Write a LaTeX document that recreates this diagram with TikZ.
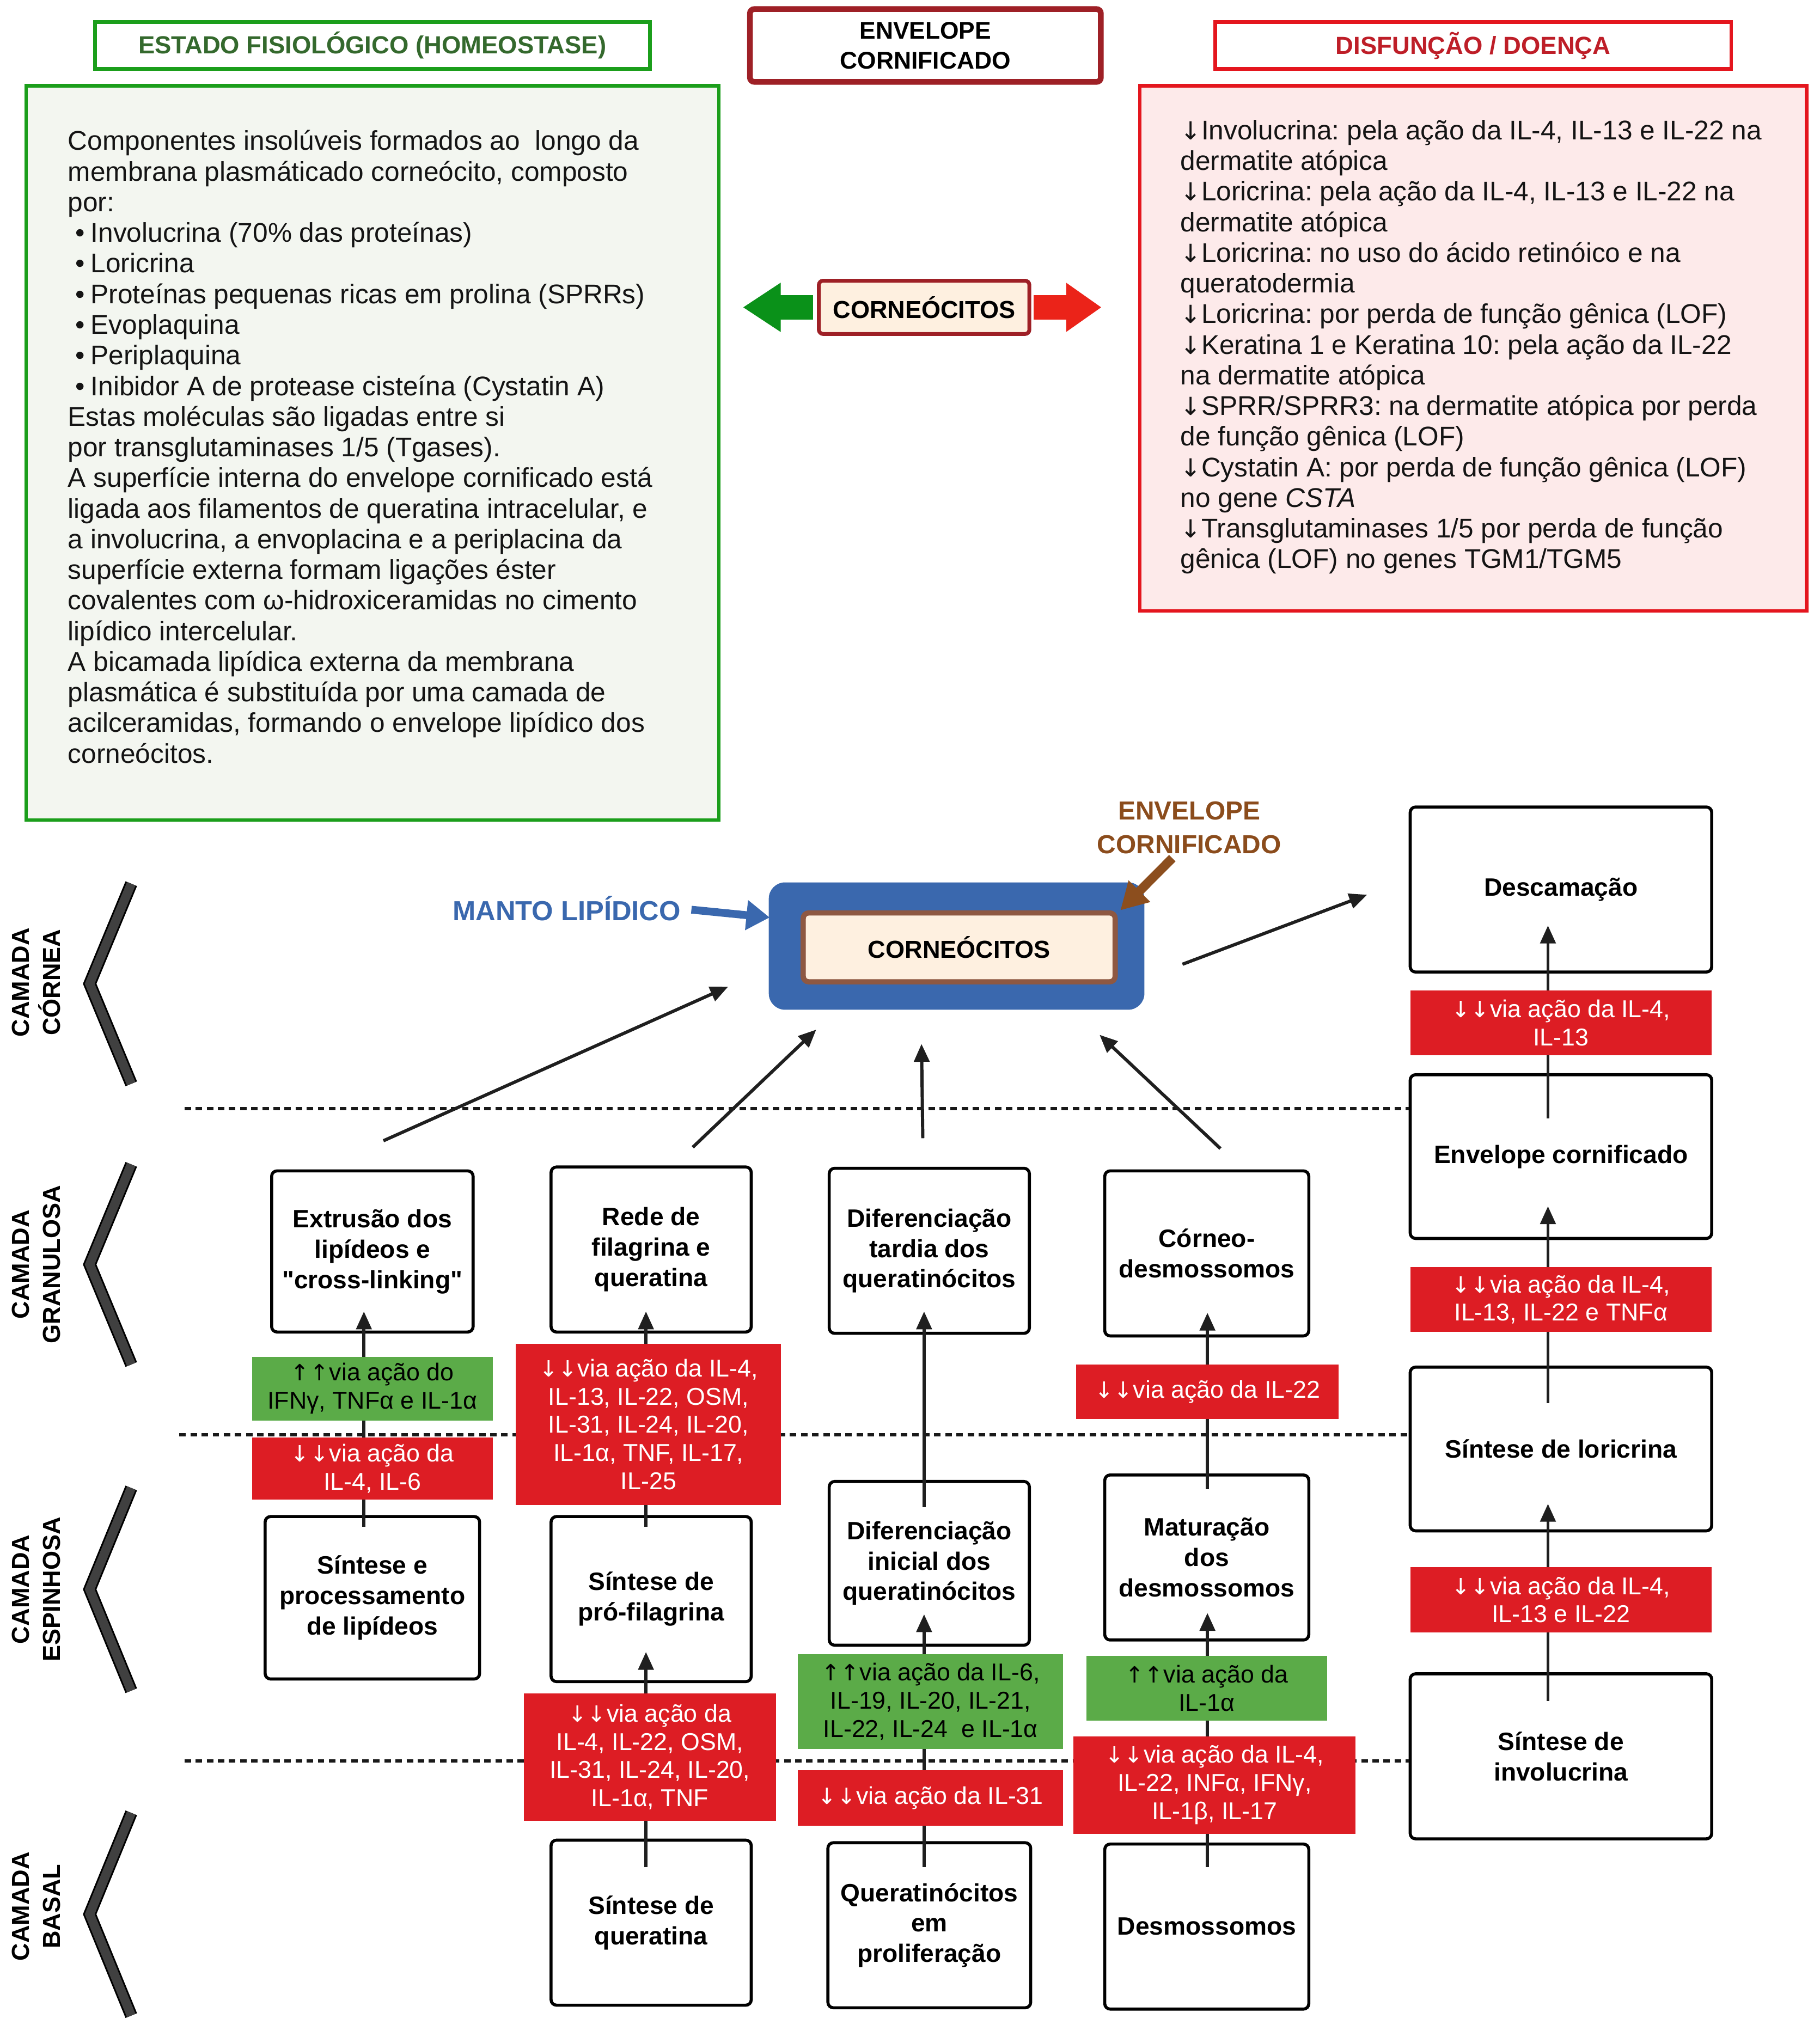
\documentclass[tikz,border=0pt]{standalone}
\usepackage{fontspec}
\setmainfont[Ligatures=TeXOff]{Liberation Sans}
\newfontfamily\arrowfont{DejaVu Sans}
\usetikzlibrary{arrows.meta,calc}
\lineskiplimit=-6pt
\lineskip=0pt
\frenchspacing
\newcommand\pxu{0.024cm}
\newcommand\dar{{\arrowfont\scalebox{0.92}{↓}}}
\newcommand\uar{{\arrowfont\scalebox{0.92}{↑}}}
\newcommand\ddn{\dar\hspace{0.02em}\dar\hspace{0.02em}}
\newcommand\uup{\uar\hspace{0.02em}\uar\hspace{0.02em}}
\definecolor{gborder}{RGB}{27,158,27}
\definecolor{gtext}{RGB}{52,105,45}
\definecolor{gfill}{RGB}{243,246,240}
\definecolor{rborder}{RGB}{228,22,30}
\definecolor{rtext}{RGB}{190,30,40}
\definecolor{rfill}{RGB}{253,234,234}
\definecolor{dred}{RGB}{158,32,38}
\definecolor{labred}{RGB}{221,29,36}
\definecolor{labgreen}{RGB}{91,171,72}
\definecolor{blu}{RGB}{58,104,174}
\definecolor{brn}{RGB}{142,88,66}
\definecolor{brntext}{RGB}{139,76,28}
\definecolor{brnarrow}{RGB}{140,78,30}
\definecolor{cream}{RGB}{254,240,224}
\definecolor{chev}{RGB}{64,64,64}
\definecolor{arrgreen}{RGB}{10,145,25}
\definecolor{arrred}{RGB}{235,35,25}
\tikzset{
  bx/.style 2 args={draw=black, fill=white, line width=1.6pt, rounded corners=0.1cm, align=center, inner sep=0pt,
    minimum width=#1*\pxu, minimum height=#2*\pxu, font=\fontsize{13.2}{16}\selectfont\bfseries},
  lab/.style 2 args={fill=labred, text=white, align=center, inner sep=0pt,
    minimum width=#1*\pxu, minimum height=#2*\pxu, font=\fontsize{12.8}{14.8}\selectfont},
  labg/.style 2 args={lab={#1}{#2}, fill=labgreen, text=black},
  arr/.style={draw=black!88, line width=1.7pt, -{Triangle[length=0.33cm,width=0.28cm]}},
  dotline/.style={draw=black!90, line width=1.6pt, dash pattern=on 0.12cm off 0.085cm},
  chevron/.style={draw=black, double=chev, double distance=7*\pxu, line width=1.3*\pxu, line join=miter},
  layer/.style={rotate=90, align=center, inner sep=0pt, font=\fontsize{12.9}{16.3}\selectfont\bfseries},
  body/.style={anchor=north west, align=left, inner sep=0pt, text=black!92,
    font=\fontsize{14.2}{16.1}\selectfont},
  ttl/.style={line width=2pt, inner sep=0pt, font=\fontsize{13}{15}\selectfont\bfseries},
}
\begin{document}
\begin{tikzpicture}[x=\pxu,y=-\pxu]
\useasboundingbox (0,0) rectangle (1400,1567.5);
\fill[white] (0,0) rectangle (1400,1567.5);

% ---------- top part ----------
\node[ttl, draw=gborder, text=gtext, minimum width=427*\pxu, minimum height=36*\pxu] (gtitle) at (286.5,35) {ESTADO FISIOLÓGICO (HOMEOSTASE)};
\node[draw=gborder, fill=gfill, line width=1.8pt, minimum width=533*\pxu, minimum height=565*\pxu] (gbox) at (286.5,348.5) {};
\node[body] (gtext) at (52,100) {Componentes insolúveis formados ao\ \ longo da\\
membrana plasmáticado corneócito, composto\\
por:\\
\hspace*{4pt}•\hspace{3pt}Involucrina (70\% das proteínas)\\
\hspace*{4pt}•\hspace{3pt}Loricrina\\
\hspace*{4pt}•\hspace{3pt}Proteínas pequenas ricas em prolina (SPRRs)\\
\hspace*{4pt}•\hspace{3pt}Evoplaquina\\
\hspace*{4pt}•\hspace{3pt}Periplaquina\\
\hspace*{4pt}•\hspace{3pt}Inibidor A de protease cisteína (Cystatin A)\\
Estas moléculas são ligadas entre si\\
por transglutaminases 1/5 (Tgases).\\
A superfície interna do envelope cornificado está\\
ligada aos filamentos de queratina intracelular, e\\
a involucrina, a envoplacina e a periplacina da\\
superfície externa formam ligações éster\\
covalentes com ω-hidroxiceramidas no cimento\\
lipídico intercelular.\\
A bicamada lipídica externa da membrana\\
plasmática é substituída por uma camada de\\
acilceramidas, formando o envelope lipídico dos\\
corneócitos.};

\node[draw=dred, line width=3pt, rounded corners=0.08cm, minimum width=270*\pxu, minimum height=56*\pxu,
  align=center, inner sep=0pt, font=\fontsize{12.7}{15.6}\selectfont\bfseries] (envtop) at (712,35) {ENVELOPE\\CORNIFICADO};

\node[ttl, draw=rborder, text=rtext, minimum width=397*\pxu, minimum height=36*\pxu] (rtitle) at (1133.5,35) {DISFUNÇÃO / DOENÇA};
\node[draw=rborder, fill=rfill, line width=1.8pt, minimum width=513*\pxu, minimum height=404*\pxu] (rbox) at (1133.5,268) {};
\node[body] (rtext) at (908,92) {\dar Involucrina: pela ação da IL-4, IL-13 e IL-22 na\\
dermatite atópica\\
\dar Loricrina: pela ação da IL-4, IL-13 e IL-22 na\\
dermatite atópica\\
\dar Loricrina: no uso do ácido retinóico e na\\
queratodermia\\
\dar Loricrina: por perda de função gênica (LOF)\\
\dar Keratina 1 e Keratina 10: pela ação da IL-22\\
na dermatite atópica\\
\dar SPRR/SPRR3: na dermatite atópica por perda\\
de função gênica (LOF)\\
\dar Cystatin A: por perda de função gênica (LOF)\\
no gene \textit{CSTA}\\
\dar Transglutaminases 1/5 por perda de função\\
gênica (LOF) no genes TGM1/TGM5};

\node[draw=dred, line width=2pt, fill=cream, rounded corners=0.08cm, minimum width=162*\pxu, minimum height=41*\pxu,
  inner sep=0pt, font=\fontsize{12.9}{15}\selectfont\bfseries] (cornT) at (711,236.5) {CORNEÓCITOS};
\draw[arrgreen, line width=19*\pxu, -{Triangle[length=0.7cm,width=0.86cm]}] ($(cornT.west)+(-3,0)$) -- ($(cornT.west)+(-57,0)$);
\draw[arrred, line width=19*\pxu, -{Triangle[length=0.65cm,width=0.86cm]}] ($(cornT.east)+(2,0)$) -- ($(cornT.east)+(54,0)$);

% ---------- layers ----------
\node[layer] (lcor) at (28,756) {CAMADA\\CÓRNEA};
\node[layer] (lgra) at (28,973) {CAMADA\\GRANULOSA};
\node[layer] (lesp) at (28,1223) {CAMADA\\ESPINHOSA};
\node[layer] (lbas) at (28,1467) {CAMADA\\BASAL};
\draw[chevron] (101,680) -- (69,757) -- (101,834);
\draw[chevron] (101,896) -- (69,973) -- (101,1050);
\draw[chevron] (101,1145) -- (69,1223) -- (101,1301);
\draw[chevron] (101,1395) -- (69,1473) -- (101,1551);

% ---------- boxes ----------
\node[bx={232}{127}] (desc) at (1201,684.5) {Descamação};
\node[bx={232}{126}] (env) at (1201,890) {Envelope cornificado};
\node[bx={232}{126}] (lor) at (1201,1115) {Síntese de loricrina};
\node[bx={232}{127}] (inv) at (1201,1351.5) {Síntese de\\involucrina};
\node[bx={155}{124}] (ext) at (286.5,963) {Extrusão dos\\lipídeos e\\"cross-linking"};
\node[bx={154}{127}] (rede) at (501,961.5) {Rede de\\filagrina e\\queratina};
\node[bx={154}{127}] (tardia) at (715,962.5) {Diferenciação\\tardia dos\\queratinócitos};
\node[bx={157}{127}] (corneo) at (928.5,964.5) {Córneo-\\desmossomos};
\node[bx={165}{125}] (sint) at (286.5,1229.5) {Síntese e\\processamento\\de lipídeos};
\node[bx={154}{127}] (prof) at (501,1230.5) {Síntese de\\pró-filagrina};
\node[bx={154}{126}] (inic) at (715,1203) {Diferenciação\\inicial dos\\queratinócitos};
\node[bx={157}{127}] (mat) at (928.5,1198.5) {Maturação\\dos\\desmossomos};
\node[bx={154}{127}] (quer) at (501,1479.5) {Síntese de\\queratina};
\node[bx={156}{127}] (prol) at (715,1481.5) {Queratinócitos\\em\\proliferação};
\node[bx={157}{127}] (desm) at (928.5,1482.5) {Desmossomos};

% ---------- dotted layer borders ----------
\coordinate (d1) at (142,853);
\coordinate (d2) at (138,1104);
\coordinate (d3) at (142,1355);
\draw[dotline] (d1) -- (d1 -| env.west);
\draw[dotline] (d2) -- (d2 -| lor.west);
\draw[dotline] (d3) -- (d3 -| inv.west);

% ---------- corneocitos ----------
\node[fill=blu, rounded corners=0.3cm, minimum width=289*\pxu, minimum height=98*\pxu, inner sep=0pt] (blue) at (736,728) {};
\node[draw=brn, line width=4*\pxu, fill=cream, rounded corners=0.1cm, minimum width=240*\pxu, minimum height=53*\pxu,
  inner sep=0pt, font=\fontsize{12.9}{15}\selectfont\bfseries] (corn) at (738,729) {CORNEÓCITOS};
\node[text=blu, inner sep=0pt, font=\fontsize{14.5}{17}\selectfont\bfseries] (manto) at (436,699) {MANTO LIPÍDICO};
\draw[blu, line width=6*\pxu, -{Triangle[length=0.43cm,width=0.53cm]}] ($(manto.east)+(8,1)$) -- ($(blue.west)+(1,-22)$);
\node[text=brntext, align=center, inner sep=0pt, font=\fontsize{13.7}{17.7}\selectfont\bfseries] (envlab) at (915,637) {ENVELOPE\\CORNIFICADO};
\draw[brnarrow, line width=7*\pxu, -{Triangle[length=0.5cm,width=0.53cm]}] ($(envlab.south)+(-13,3)$) -- ($(corn.north east)+(2,0)$);

% ---------- connectors ----------
\draw[arr] ($(ext.north)+(8.5,-22)$) -- ($(blue.south west)+(-31,-18)$);
\draw[arr] ($(rede.north)+(32,-14)$) -- ($(blue.south)+(-108,15)$);
\draw[arr] ($(tardia.north)+(-5,-22)$) -- ($(blue.south)+(-27,26)$);
\draw[arr] ($(corneo.north)+(10.5,-16)$) -- ($(blue.south)+(110,19)$);
\draw[arr] ($(blue.east)+(29,14)$) -- ($(desc.west)+(-32,4)$);

\draw[arr] ($(sint.north)+(-6.5,9)$) -- ($(ext.south)+(-6.5,-17)$);
\draw[arr] ($(prof.north)+(-4,9)$) -- ($(rede.south)+(-4,-17)$);
\draw[arr] ($(quer.north)+(-4,22)$) -- ($(prof.south)+(-4,-24)$);
\draw[arr] ($(inic.north)+(-4,21)$) -- ($(tardia.south)+(-4,-18)$);
\draw[arr] ($(prol.north)+(-4,20)$) -- ($(inic.south)+(-4,-25)$);
\draw[arr] ($(mat.north)+(0.5,12)$) -- ($(corneo.south)+(0.5,-19)$);
\draw[arr] ($(desm.north)+(0.5,19)$) -- ($(mat.south)+(0.5,-22)$);
\draw[arr] ($(env.north)+(-10,35)$) -- ($(desc.south)+(-10,-37)$);
\draw[arr] ($(lor.north)+(-10,29)$) -- ($(env.south)+(-10,-26)$);
\draw[arr] ($(inv.north)+(-10,22)$) -- ($(lor.south)+(-10,-22)$);

% ---------- cytokine labels ----------
\node[labg={185}{49}] (l1g) at (286.5,1068.5) {\uup via ação do\\IFNγ, TNFα e IL-1α};
\node[lab={185}{48}] (l1r) at (286.5,1130) {\ddn via ação da\\IL-4, IL-6};
\node[lab={204}{124}] (l2r) at (499,1096) {\ddn via ação da IL-4,\\IL-13, IL-22, OSM,\\IL-31, IL-24, IL-20,\\IL-1α, TNF, IL-17,\\IL-25};
\node[lab={202}{42}] (l4r) at (929,1071) {\ddn via ação da IL-22};
\node[lab={232}{50}] (l5a) at (1201,787) {\ddn via ação da IL-4,\\IL-13};
\node[lab={232}{50}] (l5b) at (1201,1000) {\ddn via ação da IL-4,\\IL-13, IL-22 e TNFα};
\node[lab={232}{50}] (l5c) at (1201,1231) {\ddn via ação da IL-4,\\IL-13 e IL-22};
\node[lab={194}{98}] (l2r2) at (500,1352) {\ddn via ação da\\IL-4, IL-22, OSM,\\IL-31, IL-24, IL-20,\\IL-1α, TNF};
\node[labg={204}{73}] (l3g) at (716,1309.5) {\uup via ação da IL-6,\\IL-19, IL-20, IL-21,\\IL-22, IL-24\ \ e IL-1α};
\node[lab={204}{43}] (l3r) at (716,1383.5) {\ddn via ação da IL-31};
\node[labg={185}{50}] (l4g) at (928.5,1299) {\uup via ação da\\IL-1α};
\node[lab={217}{75}] (l4r2) at (934.5,1373.5) {\ddn via ação da IL-4,\\IL-22, INFα, IFNγ,\\IL-1β, IL-17};
\end{tikzpicture}
\end{document}
